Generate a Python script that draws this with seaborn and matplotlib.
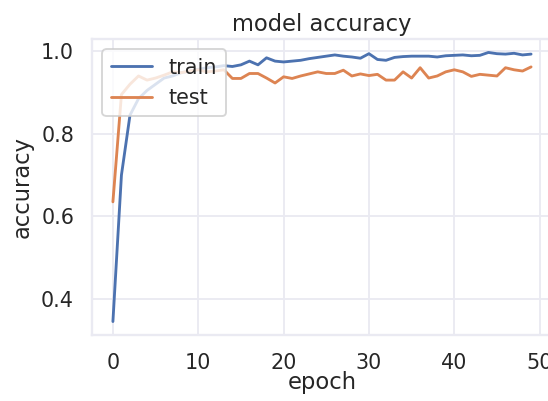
import numpy as np
import pandas as pd
import seaborn as sns
import matplotlib.pyplot as plt

# -----------------------------------------------
# data
# -----------------------------------------------
epochs = list(range(50))

train_acc = [0.345, 0.700, 0.845, 0.885, 0.905, 0.920, 0.935, 0.940, 0.948, 0.952,
             0.956, 0.960, 0.962, 0.965, 0.963, 0.967, 0.976, 0.967, 0.984, 0.976,
             0.974, 0.976, 0.978, 0.982, 0.985, 0.988, 0.991, 0.988, 0.986, 0.983,
             0.994, 0.980, 0.978, 0.985, 0.987, 0.988, 0.988, 0.988, 0.986, 0.989,
             0.990, 0.991, 0.989, 0.990, 0.997, 0.994, 0.993, 0.995, 0.991, 0.993]

test_acc = [0.635, 0.895, 0.920, 0.940, 0.930, 0.935, 0.942, 0.950, 0.948, 0.952,
            0.955, 0.950, 0.952, 0.955, 0.934, 0.934, 0.946, 0.946, 0.935, 0.923,
            0.938, 0.934, 0.940, 0.945, 0.950, 0.946, 0.946, 0.954, 0.940, 0.945,
            0.941, 0.944, 0.930, 0.930, 0.950, 0.935, 0.960, 0.935, 0.940, 0.950,
            0.955, 0.950, 0.939, 0.944, 0.942, 0.940, 0.960, 0.955, 0.952, 0.962]

# -----------------------------------------------
# plot
# -----------------------------------------------
DPI = 136
sns.set_theme(style="whitegrid", rc={
    "grid.color": "#eaeaf2",
    "axes.edgecolor": "#eaeaf2",
})

fig = plt.figure(figsize=(548 / DPI, 401 / DPI), dpi=DPI)
ax = fig.add_subplot(111)
# axes run slightly past the right edge, as in the reference crop
ax.set_position([92 / 548, 66 / 401, 460 / 548, 296 / 401])

sns.lineplot(x=epochs, y=train_acc, label="train", ax=ax)
sns.lineplot(x=epochs, y=test_acc, label="test", ax=ax)

ax.set_title("model accuracy", pad=4.5)
ax.set_xlabel("epoch", labelpad=-0.8)
ax.set_ylabel("accuracy")
ax.set_xticks([0, 10, 20, 30, 40, 50])
ax.set_yticks([0.4, 0.6, 0.8, 1.0])
ax.set_xlim(-2.45, 51.45)
ax.legend(loc="upper left")

fig.savefig("out.png", dpi=DPI)
